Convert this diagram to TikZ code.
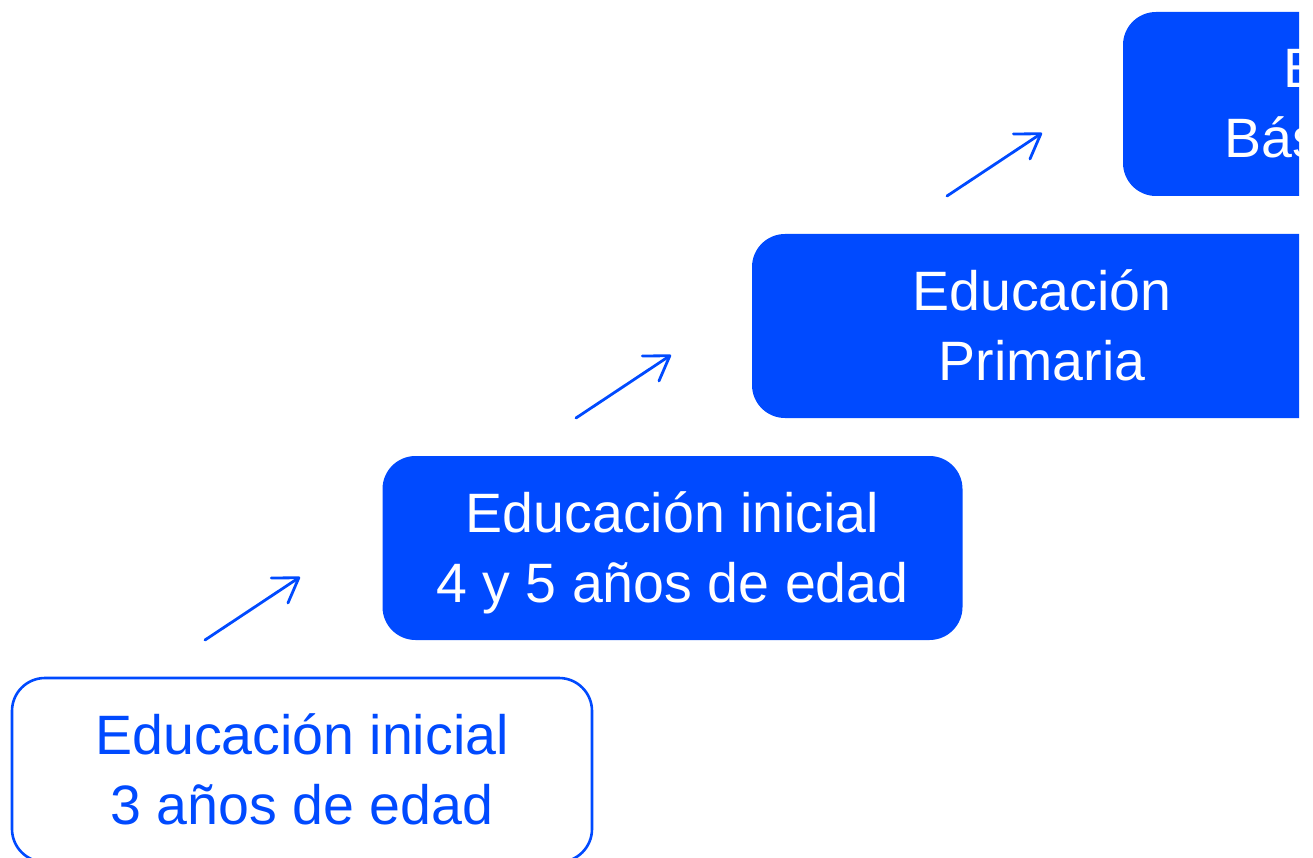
\documentclass[tikz,border=0pt]{standalone}
\usepackage{fontspec}
\setmainfont{Liberation Sans}
\usetikzlibrary{arrows.meta}
\definecolor{edublue}{RGB}{0,74,255}
\begin{document}
\begin{tikzpicture}[x=1pt,y=-1pt,
  stage/.style={rounded corners=33pt, minimum width=580pt, minimum height=184pt,
    inner sep=0pt, align=center, font=\fontsize{55.5}{70}\selectfont,
    text height=108pt, text depth=0pt},
  solidstage/.style={stage, fill=edublue, text=white},
  openstage/.style={stage, draw=edublue, line width=2.6pt, fill=white, text=edublue},
  stepArrow/.style={draw=edublue, line width=2.8pt, line cap=round, line join=round,
    -{Straight Barb[length=23pt,width=30pt,line cap=round,line join=round]}}
]
\useasboundingbox (0,0) rectangle (1313,858);
\clip (0,0) rectangle (1299,858);
\node[openstage]  (s1) at (302,770) {Educación inicial\\3 años de edad};
\node[solidstage] (s2) at (672.5,548) {Educación inicial\\4 y 5 años de edad};
\node[solidstage] (s3) at (1042,326) {Educación\\Primaria};
\node[solidstage] (s4) at (1413,104) {Educación\\Básica Regular};
\coordinate (a1s) at (205,640); \coordinate (a1e) at (300,577);
\coordinate (a2s) at (576,418); \coordinate (a2e) at (671,355);
\coordinate (a3s) at (947,196); \coordinate (a3e) at (1042,133);
\draw[stepArrow] (a1s) -- (a1e);
\draw[stepArrow] (a2s) -- (a2e);
\draw[stepArrow] (a3s) -- (a3e);
\end{tikzpicture}
\end{document}
